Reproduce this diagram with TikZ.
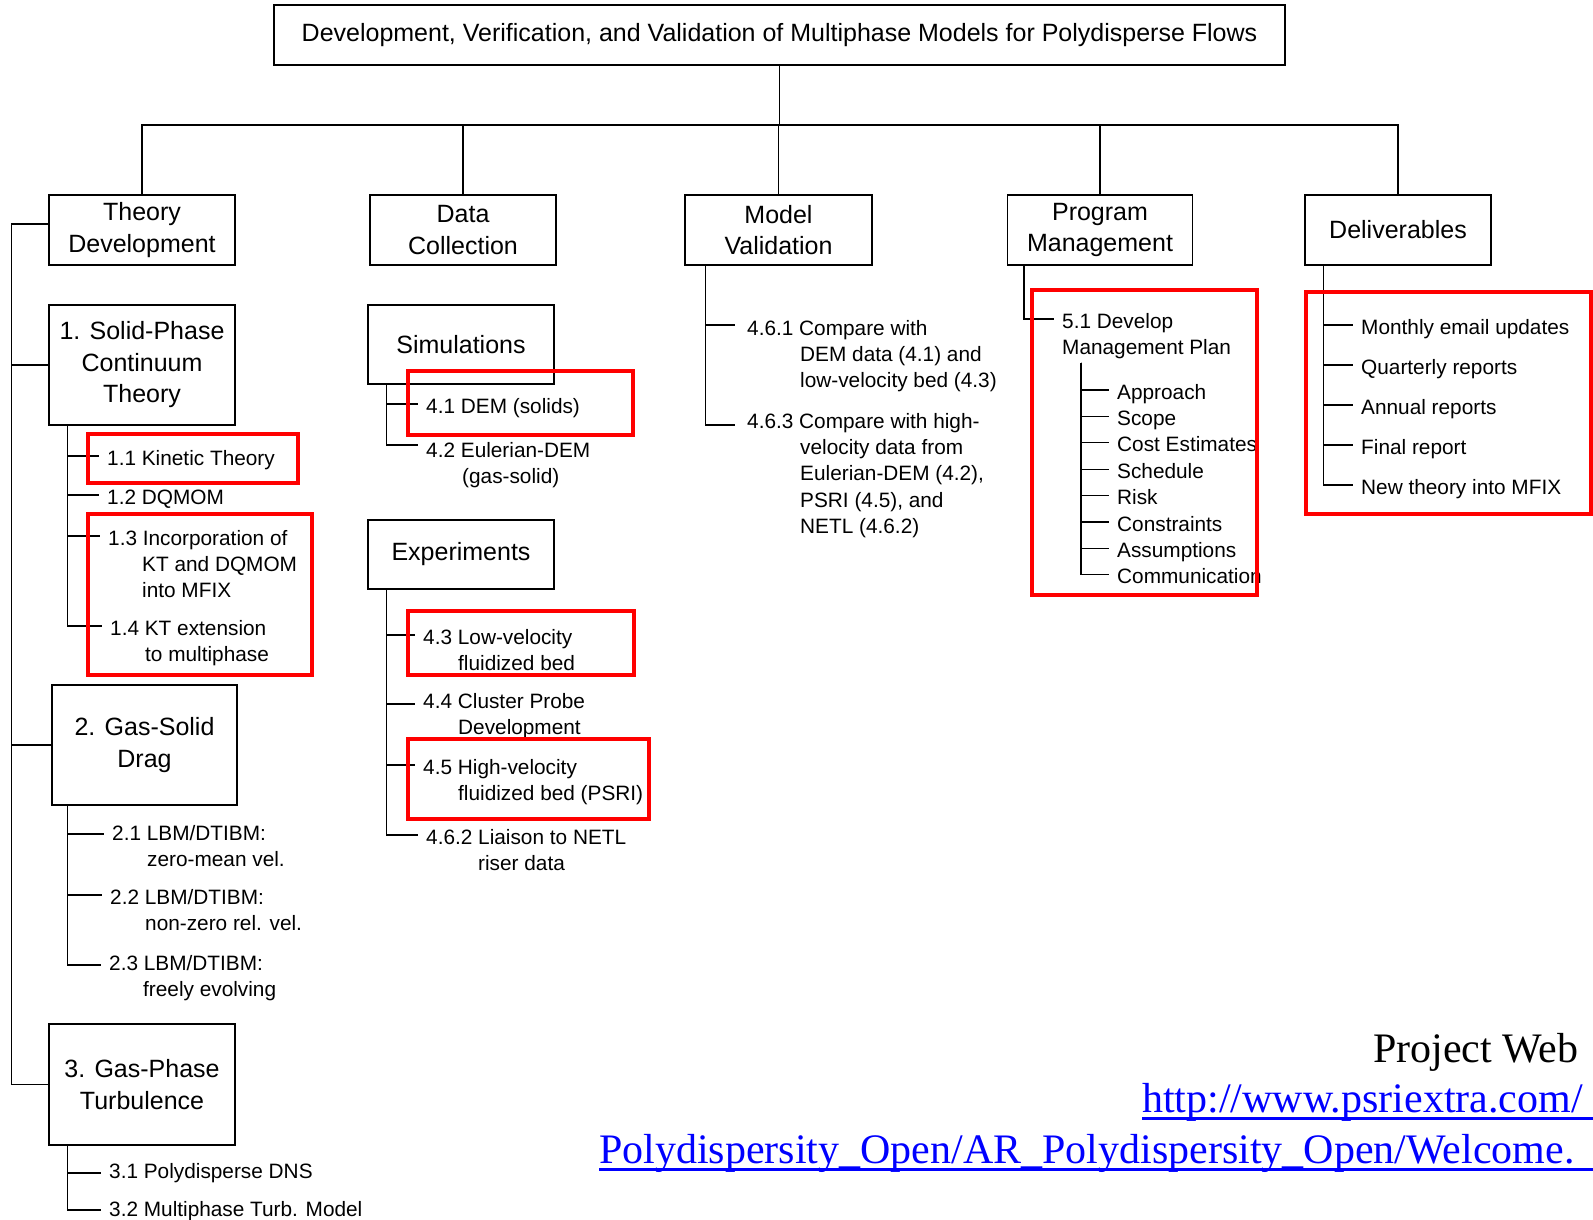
\documentclass[tikz,border=0pt]{standalone}
\usepackage{fontspec}
\setmainfont{Liberation Sans}
\newfontfamily\webfont{Liberation Serif}
\newcommand{\ind}[1]{\hspace*{#1pt}}
\newcommand{\lns}[1]{\begin{tabular}[t]{@{}l@{}}#1\end{tabular}}
\tikzset{
  box/.style={draw,line width=1.2pt,align=center,inner sep=0pt,font=\fontsize{25}{31.5}\selectfont},
  item/.style={anchor=base west,inner xsep=8pt,inner ysep=0pt,font=\fontsize{20.8}{26.4}\selectfont},
  tree/.style={line width=1.2pt},
  hilite/.style={draw=red,line width=4pt},
  web/.style={anchor=base west,inner sep=0pt,font=\webfont\fontsize{42}{48}\selectfont}
}

\begin{document}
\begin{tikzpicture}[x=1pt,y=-1pt]
  \clip(0,0)rectangle(1593,1220);
  \node[box,minimum width=1011pt,minimum height=60pt](title)at(779.5,35){\raisebox{-2pt}{Development, Verification, and Validation of Multiphase Models for Polydisperse Flows}};
  \node[box,minimum width=186pt,minimum height=70pt](td)at(142,230){Theory\\Development};
  \node[box,minimum width=186pt,minimum height=70pt](dc)at(463,230){Data\\Collection};
  \node[box,minimum width=187pt,minimum height=70pt](mv)at(778.5,230){Model\\Validation};
  \node[box,minimum width=185pt,minimum height=70pt](prog)at(1100,230){Program\\Management};
  \node[box,minimum width=186pt,minimum height=70pt](deliv)at(1398,230){Deliverables};
  \coordinate(bar)at(0,125);
  \draw[tree](title.south)--(title.south|-bar);
  \draw[tree](td.north)|-(deliv.north|-bar)--(deliv.north);
  \foreach \n in {dc,mv,prog}\draw[tree](\n.north)--(\n.north|-bar);

  \node[box,minimum width=186pt,minimum height=120pt](sp)at(142,365){1. Solid-Phase\\Continuum\\Theory};
  \node[box,minimum width=185pt,minimum height=120pt](gs)at(144.5,745){2. Gas-Solid\\Drag};
  \node[box,minimum width=186pt,minimum height=121pt](gp)at(142,1084.5){3. Gas-Phase\\Turbulence};
  \draw[tree]([yshift=6pt]td.west)-|([xshift=-37pt]gp.west)--(gp.west);
  \coordinate(spine)at(12,0);
  \draw[tree](sp.west)--(sp.west-|spine);
  \draw[tree](gs.west)--(gs.west-|spine);

  \node[item](k11)at(99,465){1.1 Kinetic Theory};
  \node[item](k12)at(99,504){1.2 DQMOM};
  \node[item](k13)at(100,545){\lns{1.3 Incorporation of\\\ind{34}KT and DQMOM\\\ind{34}into MFIX}};
  \node[item](k14)at(102,635){\lns{1.4 KT extension\\\ind{35}to multiphase}};
  \foreach \n in {k11,k12,k13,k14}\draw[tree]([xshift=19pt]sp.south west)|-([yshift=9pt]\n.base west);
  \node[item](g21)at(104,840){\lns{2.1 LBM/DTIBM:\\\ind{35}zero-mean vel.}};
  \node[item](g22)at(102,904){\lns{2.2 LBM/DTIBM:\\\ind{35}non-zero rel. vel.}};
  \node[item](g23)at(101,970){\lns{2.3 LBM/DTIBM:\\\ind{34}freely evolving}};
  \foreach \n/\s in {g21/6,g22/9,g23/5}\draw[tree]([xshift=16pt]gs.south west)|-([yshift=\s pt]\n.base west);
  \node[item](t31)at(101,1178){3.1 Polydisperse DNS};
  \node[item](t32)at(101,1216){3.2 Multiphase Turb. Model};
  \foreach \n/\s in {t31/5,t32/6}\draw[tree]([xshift=19pt]gp.south west)|-([yshift=\s pt]\n.base west);

  \node[box,minimum width=186pt,minimum height=79pt](sim)at(461,344.5){Simulations};
  \node[box,minimum width=186pt,minimum height=69pt](exp)at(461,554.5){Experiments};
  \node[item](d41)at(418,413){4.1 DEM (solids)};
  \node[item](d42)at(418,457){\lns{4.2 Eulerian-DEM\\\ind{36}(gas-solid)}};
  \foreach \n/\s in {d41/9,d42/12}\draw[tree]([xshift=19pt]sim.south west)|-([yshift=\s pt]\n.base west);
  \node[item](e43)at(415,644){\lns{4.3 Low-velocity\\\ind{35}fluidized bed}};
  \node[item](e44)at(415,708){\lns{4.4 Cluster Probe\\\ind{35}Development}};
  \node[item](e45)at(415,774){\lns{4.5 High-velocity\\\ind{35}fluidized bed (PSRI)}};
  \node[item](e462)at(418,844){\lns{4.6.2 Liaison to NETL\\\ind{52}riser data}};
  \foreach \n/\s in {e43/9,e44/4,e45/9,e462/9}\draw[tree]([xshift=19pt]exp.south west)|-([yshift=\s pt]\n.base west);

  \node[item](m461)at(739,335){\lns{4.6.1 Compare with\\\ind{53}DEM data (4.1) and\\\ind{53}low-velocity bed (4.3)}};
  \node[item](m463)at(739,428){\lns{4.6.3 Compare with high-\\\ind{53}velocity data from\\\ind{53}Eulerian-DEM (4.2),\\\ind{53}PSRI (4.5), and\\\ind{53}NETL (4.6.2)}};
  \foreach \n/\s in {m461/10,m463/3}\draw[tree]([xshift=21pt]mv.south west)|-([xshift=-4pt,yshift=\s pt]\n.base west);

  \node[item](p51)at(1054,328){\lns{5.1 Develop\\Management Plan}};
  \draw[tree]([xshift=17pt]prog.south west)|-([yshift=9pt]p51.base west);
  \foreach \t[count=\i] in {Approach,Scope,Cost Estimates,Schedule,Risk,Constraints,Assumptions,Communication}
    \node[item](pm\i)at(1109,{399+26.4*(\i-1)}){\t};
  \foreach \i in {1,...,8}\draw[tree]([xshift=27pt]p51.south west)|-([yshift=9pt]pm\i.base west);

  \foreach \t[count=\i] in {Monthly email updates,Quarterly reports,Annual reports,Final report,New theory into MFIX}
    \node[item](dl\i)at(1353,{334+40*(\i-1)}){\t};
  \foreach \i in {1,...,5}\draw[tree]([xshift=19pt]deliv.south west)|-([yshift=9pt]dl\i.base west);

  \draw[hilite](88,434)rectangle(298,483);
  \draw[hilite](88,514)rectangle(312,675);
  \draw[hilite](408,371)rectangle(633,435);
  \draw[hilite](408,611)rectangle(634,675);
  \draw[hilite](408,739)rectangle(649,819);
  \draw[hilite](1032,290)rectangle(1257,595);
  \draw[hilite](1306,292)rectangle(1591,514);

  \node[web](pw)at(1373,1062){Project Web};
  \node[web,text=blue](u1)at(1142,1112){http://www.psriextra.com/};
  \node[web,text=blue](u2)at(599,1163){Polydispersity\_Open/AR\_Polydispersity\_Open/Welcome.};
  \draw[blue,line width=3pt]([yshift=-6pt]u1.base west)--++(500,0);
  \draw[blue,line width=3pt]([yshift=-6pt]u2.base west)--++(1100,0);
\end{tikzpicture}
\end{document}
